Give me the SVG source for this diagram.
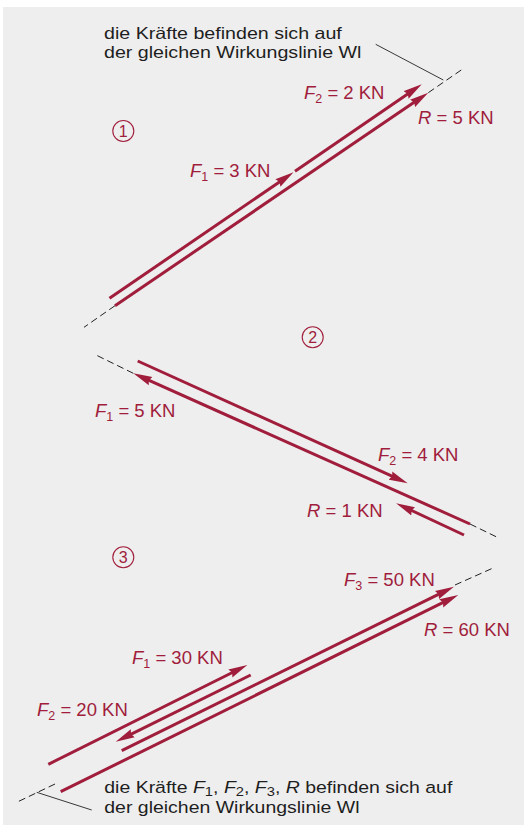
<svg xmlns="http://www.w3.org/2000/svg" width="524" height="825" viewBox="0 0 524 825">
<style>
.bg{fill:#eeeeee}
.fa{stroke:#a01d3c;stroke-width:3;fill:none;marker-end:url(#ah)}
.wl{stroke:#222;stroke-width:1;fill:none;stroke-dasharray:7 4}
.ptr{stroke:#222;stroke-width:0.9;fill:none}
.lbl{font-family:"Liberation Sans",Arial,sans-serif;font-size:18.5px;fill:#a01d3c}
.txt{font-family:"Liberation Sans",Arial,sans-serif;font-size:16.5px;fill:#1e1e1e}
.it{font-style:italic}
.sub{font-size:12.5px}
.num{stroke:#a01d3c;stroke-width:1.1;fill:none}
.numt{font-family:"Liberation Sans",Arial,sans-serif;font-size:16px;fill:#a01d3c;text-anchor:middle}
</style>
<defs>
<marker id="ah" markerUnits="userSpaceOnUse" markerWidth="20" markerHeight="10" viewBox="0 0 20 10" refX="9" refY="5" orient="auto">
<path d="M0,0.5 L19,5 L0,9.5 L2,5 z" fill="#a01d3c"/>
</marker>
</defs>
<rect class="bg" x="3" y="7" width="521" height="818"/>

<g id="connectors">
<line class="fa" x1="109.5" y1="298.3" x2="285.3" y2="177.9"/>
<line class="fa" x1="295" y1="171.2" x2="413.5" y2="89.9"/>
<line class="fa" x1="115" y1="305.7" x2="420" y2="98.3"/>
<line class="wl" x1="428.3" y1="92.7" x2="462.7" y2="69"/>
<line class="wl" x1="115" y1="305.7" x2="84" y2="327.3"/>
<line class="ptr" x1="375.7" y1="44.3" x2="443.3" y2="80"/>
<line class="fa" x1="137.7" y1="361" x2="398.6" y2="479.2"/>
<line class="fa" x1="470" y1="524" x2="142.4" y2="377.4"/>
<line class="fa" x1="464" y1="535" x2="405.1" y2="507.5"/>
<line class="wl" x1="470" y1="524" x2="497.3" y2="537.3"/>
<line class="wl" x1="133.3" y1="373.3" x2="96" y2="355"/>
<line class="fa" x1="48.3" y1="764.3" x2="238.4" y2="669.5"/>
<line class="fa" x1="250.7" y1="675" x2="124.7" y2="737.3"/>
<line class="fa" x1="121.7" y1="750.7" x2="445" y2="591.1"/>
<line class="fa" x1="60.7" y1="791.7" x2="449.3" y2="599.4"/>
<line class="wl" x1="455" y1="585" x2="492" y2="568.5"/>
<line class="wl" x1="55" y1="784" x2="16.7" y2="802.3"/>
<line class="ptr" x1="36.7" y1="792.3" x2="91.7" y2="810"/>
</g>

<g id="note-top">
<text class="txt" transform="translate(104,38.7) scale(1.19,1)">die Kräfte befinden sich auf</text>
<text class="txt" transform="translate(104,58) scale(1.19,1)">der gleichen Wirkungslinie Wl</text>
</g>

<g id="num1"><circle class="num" cx="123.3" cy="131" r="10.5"/><text class="numt" x="123.3" y="136.7">1</text></g>
<g id="num2"><circle class="num" cx="312.7" cy="337.3" r="10.5"/><text class="numt" x="312.7" y="343">2</text></g>
<g id="num3"><circle class="num" cx="123.3" cy="557.3" r="10.5"/><text class="numt" x="123.3" y="563">3</text></g>

<g id="d1-F2"><text class="lbl" x="304" y="99"><tspan class="it">F</tspan><tspan class="sub" dy="4">2</tspan><tspan dy="-4"> = 2 KN</tspan></text></g>
<g id="d1-R"><text class="lbl" x="418" y="124"><tspan class="it">R</tspan> = 5 KN</text></g>
<g id="d1-F1"><text class="lbl" x="190" y="177"><tspan class="it">F</tspan><tspan class="sub" dy="4">1</tspan><tspan dy="-4"> = 3 KN</tspan></text></g>

<g id="d2-F1"><text class="lbl" x="95" y="417"><tspan class="it">F</tspan><tspan class="sub" dy="4">1</tspan><tspan dy="-4"> = 5 KN</tspan></text></g>
<g id="d2-F2"><text class="lbl" x="378" y="461"><tspan class="it">F</tspan><tspan class="sub" dy="4">2</tspan><tspan dy="-4"> = 4 KN</tspan></text></g>
<g id="d2-R"><text class="lbl" x="307" y="517"><tspan class="it">R</tspan> = 1 KN</text></g>

<g id="d3-F3"><text class="lbl" x="344" y="586"><tspan class="it">F</tspan><tspan class="sub" dy="4">3</tspan><tspan dy="-4"> = 50 KN</tspan></text></g>
<g id="d3-R"><text class="lbl" x="424" y="636"><tspan class="it">R</tspan> = 60 KN</text></g>
<g id="d3-F1"><text class="lbl" x="132" y="664"><tspan class="it">F</tspan><tspan class="sub" dy="4">1</tspan><tspan dy="-4"> = 30 KN</tspan></text></g>
<g id="d3-F2"><text class="lbl" x="37" y="716"><tspan class="it">F</tspan><tspan class="sub" dy="4">2</tspan><tspan dy="-4"> = 20 KN</tspan></text></g>

<g id="note-bottom">
<text class="txt" transform="translate(104.3,793) scale(1.18,1)">die Kräfte <tspan class="it">F</tspan><tspan class="sub" dy="3">1</tspan><tspan dy="-3">, </tspan><tspan class="it">F</tspan><tspan class="sub" dy="3">2</tspan><tspan dy="-3">, </tspan><tspan class="it">F</tspan><tspan class="sub" dy="3">3</tspan><tspan dy="-3">, </tspan><tspan class="it">R</tspan> befinden sich auf</text>
<text class="txt" transform="translate(104.3,812.5) scale(1.18,1)">der gleichen Wirkungslinie Wl</text>
</g>
</svg>
